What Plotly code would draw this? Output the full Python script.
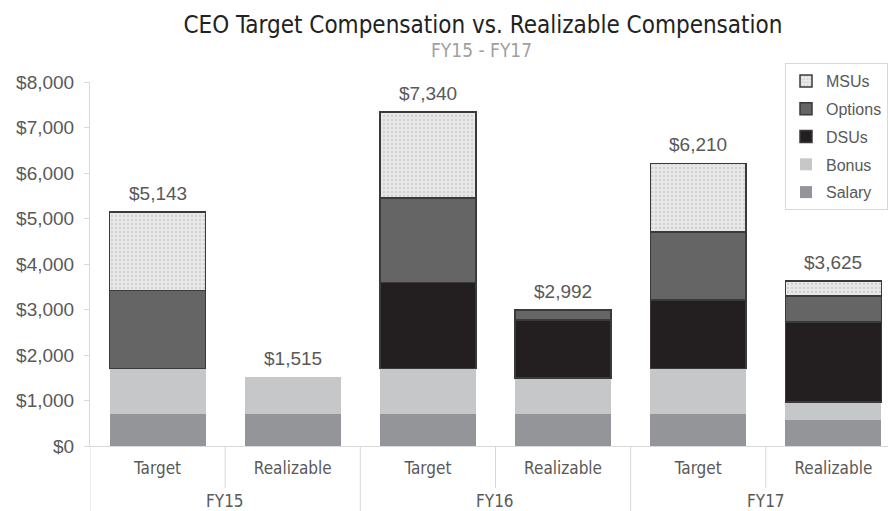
import plotly.graph_objects as go

years = ["FY15", "FY15", "FY16", "FY16", "FY17", "FY17"]
kinds = ["Target", "Realizable", "Target", "Realizable", "Target", "Realizable"]

salary = [700, 700, 700, 700, 700, 570]
bonus = [1000, 815, 1000, 800, 1000, 400]
dsus = [None, None, 1890, 1270, 1510, 1750]
options = [1722, None, 1860, 222, 1490, 580]
msus = [1721, None, 1890, None, 1510, 325]
totals = [5143, 1515, 7340, 2992, 6210, 3625]
total_labels = ["$5,143", "$1,515", "$7,340", "$2,992", "$6,210", "$3,625"]

subtitle = "FY15 - FY17"
title = "CEO Target Compensation vs. Realizable Compensation"

cond = "Liberation Sans Narrow, DejaVu Sans Condensed, Arial Narrow, sans-serif"
reg = "Liberation Sans, Arial, sans-serif"
outline = dict(color="#3a3a3a", width=1.5)
grey_line = "#d9d9d9"

W, H = 888, 511
M_L, M_T, M_B = 90, 82, 65
plot_h = float(H - M_T - M_B)

cats = [f"{y} {k}" for y, k in zip(years, kinds)]

fig = go.Figure()
series = [
    ("Salary", salary, dict(color="#939598", line=dict(width=0))),
    ("Bonus", bonus, dict(color="#c6c7c9", line=dict(width=0))),
    ("DSUs", dsus, dict(color="#231f20", line=outline)),
    ("Options", options, dict(color="#656565", line=outline)),
    ("MSUs", msus, dict(color="#e8e8e9", line=outline,
                        pattern=dict(shape=".", fgcolor="#b5b5b5", bgcolor="#e8e8e9",
                                     size=4, solidity=0.25))),
]
n = len(series)
for k, (name, vals, mk) in enumerate(series):
    fig.add_bar(x=cats, y=vals, name=name, marker=mk, legendgroup=name,
                legendrank=n - k)

for i, (t, lab) in enumerate(zip(totals, total_labels)):
    fig.add_annotation(x=i, y=t, xref="x", yref="y", text=lab, showarrow=False,
                       yanchor="bottom", yshift=6,
                       font=dict(family=reg, size=19, color="#595959"))

fig.add_annotation(x=0.49, y=1 + 32 / plot_h, xref="paper", yref="paper", text=subtitle,
                   showarrow=False, yanchor="middle",
                   font=dict(family=cond, size=19, color="#a0a0a0"))

# group labels and dividers
groups = []
for i, y in enumerate(years):
    if not groups or groups[-1][0] != y:
        groups.append([y, i, i])
    else:
        groups[-1][2] = i
for g, a, b in groups:
    fig.add_annotation(x=(a + b) / 2, y=-55 / plot_h, xref="x", yref="paper", text=g,
                       showarrow=False, yanchor="middle",
                       font=dict(family=cond, size=17, color="#595959"))
    fig.add_shape(type="line", xref="x", yref="paper", x0=a - 0.5, x1=a - 0.5,
                  y0=0, y1=-70 / plot_h, line=dict(color=grey_line, width=1))
    for j in range(a, b):
        fig.add_shape(type="line", xref="x", yref="paper", x0=j + 0.5, x1=j + 0.5,
                      y0=0, y1=-42 / plot_h, line=dict(color=grey_line, width=1))

fig.update_layout(
    width=W, height=H,
    margin=dict(l=M_L, r=0, t=M_T, b=M_B, autoexpand=False),
    paper_bgcolor="white", plot_bgcolor="white",
    barmode="stack", bargap=0.29,
    title=dict(text=title, x=483 / W, xanchor="center", y=1 - 25 / H, yanchor="middle",
               font=dict(family=cond, size=24, color="#222222")),
    legend=dict(x=1, xanchor="right", y=1 + 19 / plot_h, yanchor="top",
                traceorder="grouped", bgcolor="white", bordercolor=grey_line,
                borderwidth=1, font=dict(family=reg, size=16, color="#595959"),
                itemwidth=30, tracegroupgap=4),
    showlegend=True,
)
fig.update_yaxes(range=[0, 8000], tickprefix="$", tickformat=",", dtick=1000,
                 showgrid=False, zeroline=False, showline=True, linecolor=grey_line,
                 ticks="outside", ticklen=5, tickcolor=grey_line, ticklabelstandoff=6,
                 automargin=False,
                 tickfont=dict(family=reg, size=19, color="#595959"))
fig.update_xaxes(type="category", range=[-0.5, 5.404], showline=True, linecolor=grey_line,
                 tickvals=cats, ticktext=kinds, ticks="", ticklabelstandoff=7,
                 automargin=False,
                 tickfont=dict(family=cond, size=17, color="#595959"))

fig.write_html("out.html", config={"displayModeBar": False},
               post_script="document.body.style.margin='0';document.body.style.overflow='hidden';")
